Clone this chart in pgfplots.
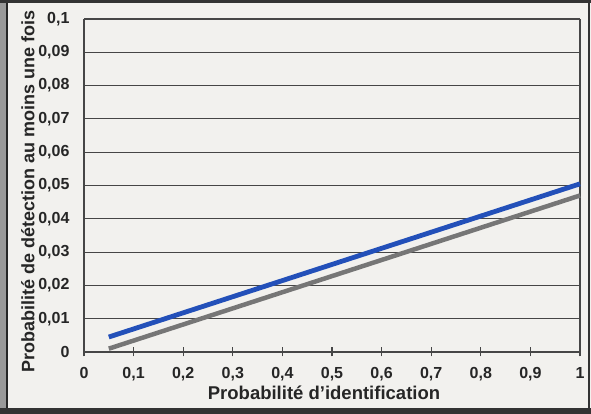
\documentclass[border=0pt]{standalone}
\usepackage{pgfplots}
\pgfplotsset{compat=1.18}
\usepackage{fontspec}
\setmainfont{Liberation Sans}
\definecolor{paper}{RGB}{242,241,238}
\definecolor{bluel}{RGB}{35,80,185}
\definecolor{grayl}{RGB}{118,118,118}
\definecolor{gridc}{RGB}{70,70,70}
\begin{document}
\begin{tikzpicture}[x=1pt,y=1pt]
\useasboundingbox (0,0) rectangle (591,414);
\fill[paper] (0,0) rectangle (591,414);
\fill[black!40] (0,0) rectangle (7,414);
\draw[line width=1.5pt,black!85] (7,0) -- (7,414);
\draw[line width=3pt,black!80] (0,412.5) -- (591,412.5);
\draw[line width=2pt,black!80] (589,0) -- (589,414);
\fill[black!80] (0,0) rectangle (591,6);
\begin{axis}[
  at={(84pt,62pt)}, anchor=origin,
  scale only axis, width=496pt, height=333pt,
  xmin=0, xmax=1, ymin=0, ymax=0.1,
  xtick={0,0.1,...,1.0}, ytick={0,0.01,...,0.1},
  xticklabels={0,{0,1},{0,2},{0,3},{0,4},{0,5},{0,6},{0,7},{0,8},{0,9},1},
  yticklabels={0,{0,01},{0,02},{0,03},{0,04},{0,05},{0,06},{0,07},{0,08},{0,09},{0,1}},
  ymajorgrids, grid style={gridc, line width=1.1pt},
  axis line style={gridc, line width=1.2pt},
  axis x line*=bottom, axis y line*=left,
  x tick style={gridc, line width=1.2pt}, major tick length=9pt,
  xtick align=center, ytick style={draw=none},
  tick label style={font=\fontsize{16}{18}\selectfont\bfseries, text=black!85},
  xticklabel style={yshift=-7pt},
  yticklabel style={xshift=-11pt},
  /pgf/number format/assume math mode=true,
  xlabel={Probabilité d'identification},
  ylabel={Probabilité de détection au moins une fois},
  xlabel style={font=\fontsize{18.5}{20}\selectfont\bfseries, text=black!85, yshift=2pt, xshift=-8pt},
  ylabel style={font=\fontsize{18}{20}\selectfont\bfseries, text=black!85, yshift=-3pt, xshift=-6pt},
  clip=false,
]
\addplot[gridc, line width=1.2pt] coordinates {(1,0) (1,0.1)};
\addplot[gridc, line width=1.2pt] coordinates {(0,0.1) (1,0.1)};
\addplot[grayl, line width=4.5pt] coordinates {(0.05,0.0010) (1,0.0470)};
\addplot[bluel, line width=4.8pt] coordinates {(0.05,0.0045) (1,0.0505)};
\end{axis}
\end{tikzpicture}
\end{document}
